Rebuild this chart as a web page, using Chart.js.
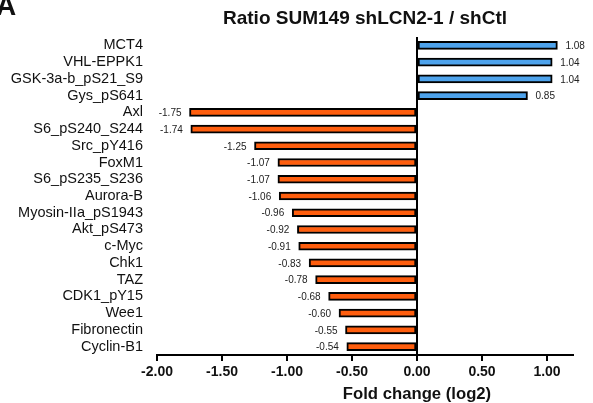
<!DOCTYPE html>
<html>
<head>
<meta charset="utf-8">
<script src="https://cdn.jsdelivr.net/npm/chart.js@4/dist/chart.umd.min.js"></script>
<style>
  html, body { margin: 0; padding: 0; background: #fff; }
  #wrap { width: 593px; height: 403px; }
</style>
</head>
<body>
<div id="wrap"><canvas id="grafico" width="593" height="403"></canvas></div>
<script>
const proteinas = ["MCT4", "VHL-EPPK1", "GSK-3a-b_pS21_S9", "Gys_pS641", "Axl", "S6_pS240_S244",
  "Src_pY416", "FoxM1", "S6_pS235_S236", "Aurora-B", "Myosin-IIa_pS1943", "Akt_pS473",
  "c-Myc", "Chk1", "TAZ", "CDK1_pY15", "Wee1", "Fibronectin", "Cyclin-B1"];
const foldChange = [1.08, 1.04, 1.04, 0.85, -1.75, -1.74, -1.25, -1.07, -1.07, -1.06, -0.96,
  -0.92, -0.91, -0.83, -0.78, -0.68, -0.60, -0.55, -0.54];
const ticksX = [-2.0, -1.5, -1.0, -0.5, 0.0, 0.5, 1.0];

const titulo = "Ratio SUM149 shLCN2-1 / shCtl";
const tituloEixo = "Fold change (log2)";
const fonte = '"Liberation Sans", Arial, Helvetica, sans-serif';

const azul = "#4ea3ec";
const laranja = "#ff5e0e";

// rotulos de valor e textos extras
const extras = {
  id: "extras",
  afterDatasetsDraw(chart) {
    const ctx = chart.ctx;
    const meta = chart.getDatasetMeta(0);
    ctx.save();
    ctx.font = "10px " + fonte;
    ctx.fillStyle = "#222";
    ctx.textBaseline = "middle";
    meta.data.forEach((bar, i) => {
      const v = foldChange[i];
      if (v >= 0) {
        ctx.textAlign = "left";
        ctx.fillText(v.toFixed(2), bar.x + 8, bar.y + 1);
      } else {
        ctx.textAlign = "right";
        ctx.fillText(v.toFixed(2), bar.x - 8, bar.y + 1);
      }
    });

    const area = chart.chartArea;
    ctx.fillStyle = "#111";
    ctx.textAlign = "center";
    ctx.textBaseline = "alphabetic";
    ctx.font = "bold 19px " + fonte;
    ctx.fillText(titulo, (area.left + area.right) / 2, 24);

    ctx.font = "bold 16.7px " + fonte;
    ctx.fillText(tituloEixo, chart.scales.x.getPixelForValue(0), 399);

    ctx.textAlign = "left";
    ctx.font = "bold 28px " + fonte;
    ctx.fillText("A", -4, 15);
    ctx.restore();
  }
};

new Chart(document.getElementById("grafico").getContext("2d"), {
  type: "bar",
  data: {
    labels: proteinas,
    datasets: [{
      data: foldChange,
      backgroundColor: foldChange.map(v => v >= 0 ? azul : laranja),
      borderColor: "#000",
      borderWidth: 2,
      borderSkipped: false,
      barThickness: 8
    }]
  },
  options: {
    indexAxis: "y",
    responsive: false,
    animation: false,
    layout: { padding: { top: 37, right: 20, left: 0, bottom: 0 } },
    plugins: {
      legend: { display: false },
      tooltip: { enabled: false }
    },
    scales: {
      x: {
        min: -2,
        max: 1.2,
        afterBuildTicks: scale => {
          scale.ticks = ticksX.map(v => ({ value: v }));
        },
        afterFit: scale => { scale.height = 48; },
        border: { display: true, color: "#000", width: 2 },
        grid: {
          color: c => (c.tick && c.tick.value === 0) ? "#000" : "rgba(0,0,0,0)",
          lineWidth: 2,
          tickColor: "#000",
          tickLength: 6
        },
        ticks: {
          font: { family: fonte, size: 14, weight: "bold" },
          color: "#111",
          padding: 3,
          maxRotation: 0,
          callback: v => Number(v).toFixed(2)
        }
      },
      y: {
        afterFit: scale => { scale.width = 157; },
        border: { display: false },
        grid: { display: false, drawTicks: false },
        ticks: {
          font: { family: fonte, size: 14.5 },
          color: "#111",
          padding: 14,
          autoSkip: false
        }
      }
    }
  },
  plugins: [extras]
});
</script>
</body>
</html>
